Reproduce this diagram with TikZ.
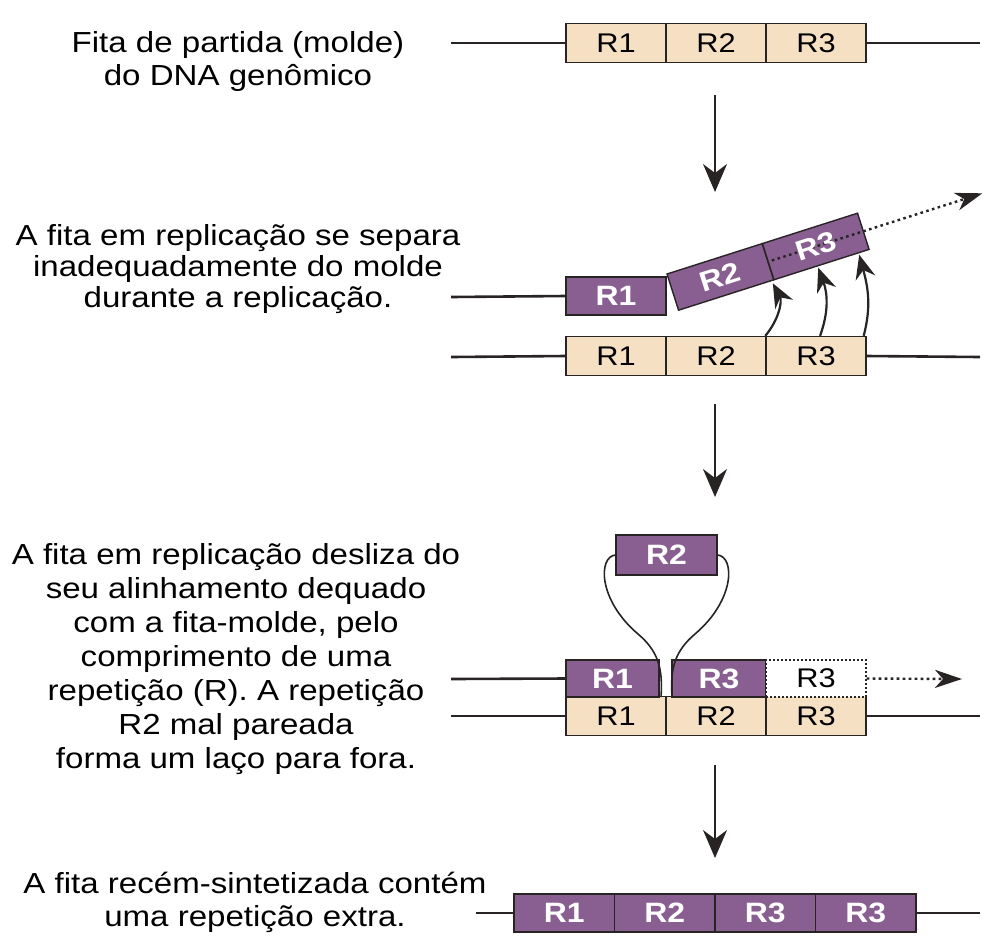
\documentclass[tikz,border=0pt]{standalone}
\usepackage{fontspec}
\setmainfont{Liberation Sans}[FakeStretch=1.14]
\usetikzlibrary{arrows.meta,calc}
\definecolor{tanfill}{RGB}{245,224,195}
\definecolor{purplefill}{RGB}{137,95,145}
\definecolor{edge}{RGB}{40,36,36}

\tikzset{
  strand/.style={line width=2.6pt, draw=edge},
  boxedge/.style={line width=1.4pt, draw=edge},
  tanbox/.style={boxedge, fill=tanfill, minimum width=100pt,
    minimum height=39pt, inner sep=0pt, font=\fontsize{27}{27}\selectfont},
  purplebox/.style={boxedge, fill=purplefill, minimum width=100pt,
    minimum height=38pt, inner sep=0pt, text=white, font=\fontsize{28}{28}\selectfont\bfseries},
  purplelabel/.style={inner sep=0pt, text=white, font=\fontsize{28}{28}\selectfont\bfseries},
  caption/.style={align=center, inner sep=0pt},
  downarrow/.style={line width=2.2pt, draw=edge, -{Stealth[length=28pt,width=24pt,inset=9pt]}},
  pairarrow/.style={line width=2.2pt, draw=edge, -{Stealth[length=24pt,width=20pt,inset=8pt]}},
  dotline/.style={line width=2.4pt, draw=edge, dash pattern=on 2.6pt off 3.4pt,
    -{Stealth[length=27pt,width=18pt,inset=8pt]}},
  looparm/.style={line width=1.6pt, draw=edge},
}

\begin{document}
\begin{tikzpicture}[x=1pt,y=-1pt]
\useasboundingbox[fill=white] (0,0) rectangle (984,946);

% ---------- captions ----------
\node[caption, font=\fontsize{29}{33}\selectfont] (cap1) at (238,61)
  {Fita de partida (molde)\\do DNA genômico};
\node[caption, font=\fontsize{29}{31}\selectfont] (cap2) at (238,269)
  {A fita em replicação se separa\\inadequadamente do molde\\durante a replicação.};
\node[caption, font=\fontsize{29}{34}\selectfont] (cap3) at (236,659)
  {A fita em replicação desliza do\\seu alinhamento dequado\\com a fita-molde, pelo\\comprimento de uma\\repetição (R). A repetição\\R2 mal pareada\\forma um laço para fora.};
\node[caption, font=\fontsize{29}{33}\selectfont] (cap4) at (255,902)
  {A fita recém-sintetizada contém\\uma repetição extra.};

% ---------- row 1: starting template ----------
\coordinate (l1) at (451,43);
\coordinate (r1) at (980,43);
\node[tanbox] (a1) at (616,43) {R1};
\node[tanbox] (a2) at (716,43) {R2};
\node[tanbox] (a3) at (816,43) {R3};
\draw[strand] (l1) -- (a1.west);
\draw[strand] (a3.east) -- (r1);

% ---------- step arrows ----------
\coordinate (s1a) at (715,95);  \coordinate (s1b) at (715,192);
\coordinate (s2a) at (715,404); \coordinate (s2b) at (715,497);
\coordinate (s3a) at (715,765); \coordinate (s3b) at (715,858);
\draw[downarrow] (s1a) -- (s1b);
\draw[downarrow] (s2a) -- (s2b);
\draw[downarrow] (s3a) -- (s3b);

% ---------- row 2: replicating strand peels away ----------
\coordinate (l2) at (451,297);
\node[purplebox] (b1) at (616,296) {R1};
\draw[strand] (l2) -- (b1.west);

\begin{scope}[shift={(667,274)}, rotate=17.7]
  \fill[purplefill] (0,0) rectangle (200,38);
  \coordinate (ds) at (104,19);
  \coordinate (tip2) at (325,19);
  \draw[dotline] (ds) -- (tip2);
  \draw[boxedge] (0,0) rectangle (100,38);
  \draw[boxedge] (100,0) rectangle (200,38);
  \node[purplelabel, rotate=17.7] (t2) at (50,19) {R2};
  \node[purplelabel, rotate=17.7] (t3) at (150,19) {R3};
  \coordinate (h1) at (98,41);
  \coordinate (h2) at (146,40);
  \coordinate (h3) at (189,40);
\end{scope}

\coordinate (l3) at (451,357);
\coordinate (r3) at (980,357);
\node[tanbox] (c1) at (616,356) {R1};
\node[tanbox] (c2) at (716,356) {R2};
\node[tanbox] (c3) at (816,356) {R3};
\draw[strand] (l3) -- (c1.west);
\draw[strand] (c3.east) -- (r3);

\draw[pairarrow] (c3.north west) to[out=50,in=-62] (h1);
\draw[pairarrow] ($(c3.north west)!0.54!(c3.north east)$) to[out=70,in=-70] (h2);
\draw[pairarrow] ($(c3.north west)!0.97!(c3.north east)$) to[out=75,in=-75] (h3);

% ---------- row 3: slippage with looped-out R2 ----------
\coordinate (l4) at (451,716);
\coordinate (r4) at (980,716);
\node[tanbox] (e1) at (616,716) {R1};
\node[tanbox] (e2) at (716,716) {R2};
\node[tanbox] (e3) at (816,716) {R3};
\draw[strand] (l4) -- (e1.west);
\draw[strand] (e3.east) -- (r4);

\coordinate (l5) at (451,679);
\node[purplebox, minimum width=93pt, minimum height=37pt] (p1) at (612.5,678.5) {R1};
\node[purplebox, minimum width=94pt, minimum height=37pt] (p3) at (719,678.5) {R3};
\node[draw=edge, line width=1.4pt, dash pattern=on 2pt off 2pt, fill=white,
  minimum width=100pt, minimum height=37pt, inner sep=0pt,
  font=\fontsize{27}{27}\selectfont] (d3) at (816,678.5) {R3};
\draw[strand] (l5) -- (p1.west);
\coordinate (tip3) at (962,679);
\draw[dotline] (d3.east) -- (tip3);

\node[purplebox, minimum width=101pt, minimum height=40pt] (lp) at (666.5,555) {R2};
\coordinate (gapL) at (661,697);
\coordinate (gapR) at (672,697);
\draw[looparm] (lp.west) .. controls (598,557) and (598,600) .. (638,634)
  .. controls (658,651) and (663,668) .. (gapL);
\draw[looparm] (lp.east) .. controls (735,557) and (735,600) .. (695,634)
  .. controls (675,651) and (670,668) .. (gapR);

% ---------- row 4: product with an extra repeat ----------
\coordinate (l6) at (476,913);
\coordinate (r6) at (980,913);
\node[purplebox, minimum width=100.5pt] (f1) at (564.25,913) {R1};
\node[purplebox, minimum width=100.5pt] (f2) at (664.75,913) {R2};
\node[purplebox, minimum width=100.5pt] (f3) at (765.25,913) {R3};
\node[purplebox, minimum width=100.5pt] (f4) at (865.75,913) {R3};
\draw[strand] (l6) -- (f1.west);
\draw[strand] (f4.east) -- (r6);
\end{tikzpicture}
\end{document}
